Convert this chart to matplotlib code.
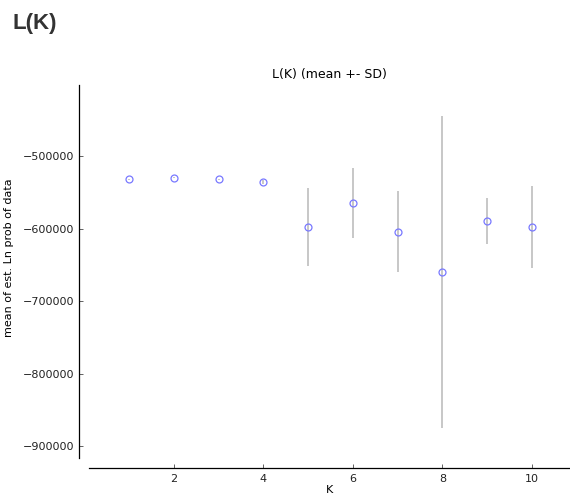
import numpy as np
import matplotlib
matplotlib.use("Agg")
import matplotlib.pyplot as plt

# values
k_values = [1, 2, 3, 4, 5, 6, 7, 8, 9, 10]
mean_lnp = [-532000, -530000, -532000, -536000, -598000, -565000, -604000, -660000, -589000, -598000]
sd_lnp = [800, 600, 700, 3000, 53400, 48300, 56300, 215000, 31700, 56800]
x_ticks = [2, 4, 6, 8, 10]
y_ticks = [-500000, -600000, -700000, -800000, -900000]

fig = plt.figure(figsize=(5.70, 4.97), dpi=100)
ax = fig.add_axes([0.156, 0.0785, 0.844, 0.7505])

ax.errorbar(k_values, mean_lnp, yerr=sd_lnp, fmt="none", ecolor="#b8b8b8",
            elinewidth=1.1, capsize=0, zorder=1)
ax.plot(k_values, mean_lnp, "o", mfc="none", mec="#7878ff", mew=0.9,
        markersize=5, zorder=2)

ax.set_xlim(0.1, 10.85)
ax.set_ylim(-916000, -402000)
ax.set_xticks(x_ticks)
ax.set_yticks(y_ticks)
ax.tick_params(direction="in", length=3, width=0.5, labelsize=8, colors="#222222")
ax.tick_params(axis="x", pad=4)

# offset spines like the original (~10 px)
for side in ["top", "right"]:
    ax.spines[side].set_visible(False)
ax.spines["left"].set_position(("outward", 7.2))
ax.spines["bottom"].set_position(("outward", 7.2))
ax.spines["left"].set_linewidth(0.9)
ax.spines["bottom"].set_linewidth(0.9)

ax.set_title("L(K) (mean +- SD)", fontsize=9, pad=5)
ax.set_xlabel("K", fontsize=8, labelpad=1)
ax.set_ylabel("mean of est. Ln prob of data", fontsize=8)
ax.yaxis.set_label_coords(-0.156, 0.536)

fig.text(12 / 570, 1 - 29 / 497, "L(K)", fontsize=16, fontweight="bold",
         family="Liberation Sans", color="#333333", va="baseline", ha="left")

fig.savefig("out.png", dpi=100)
